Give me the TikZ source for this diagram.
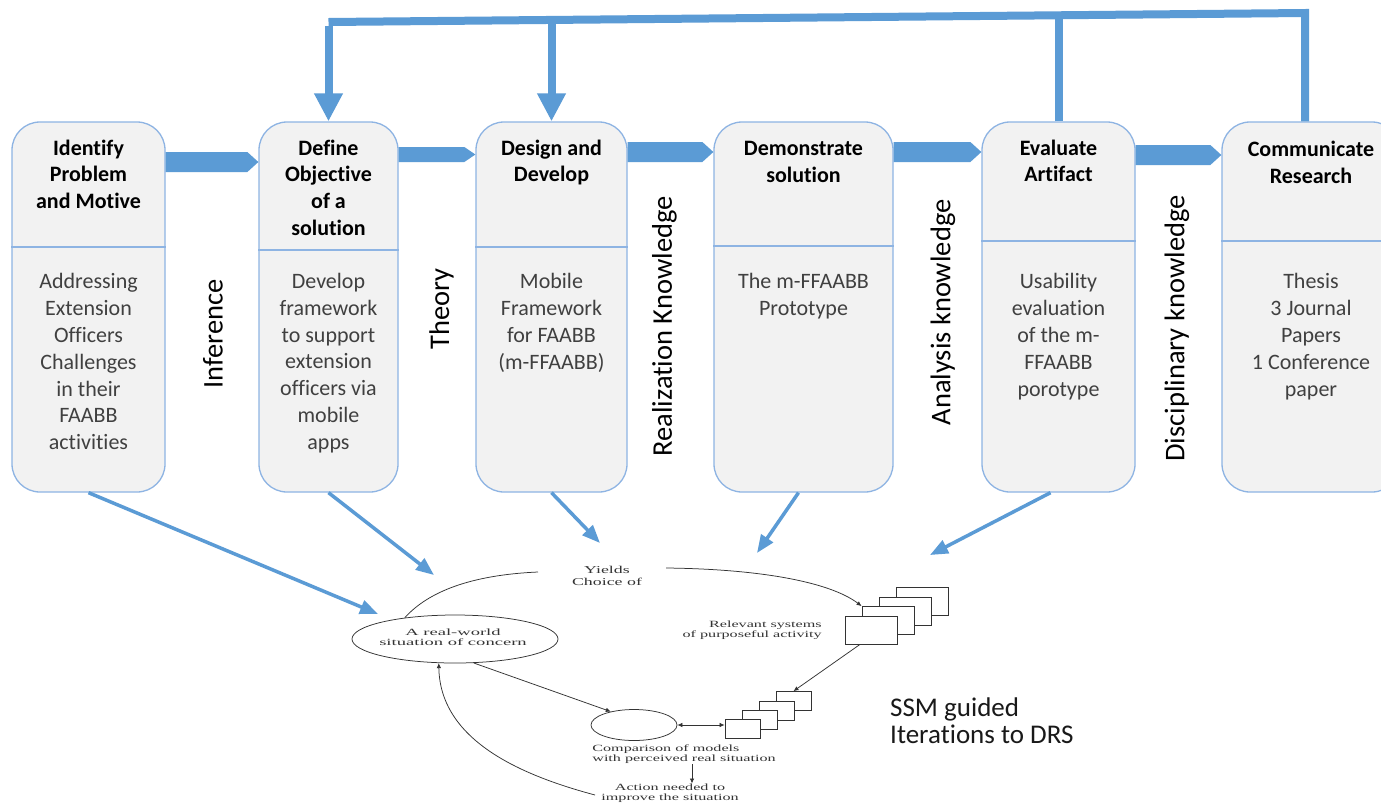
\documentclass[tikz,border=0pt]{standalone}
\usepackage{fontspec}
\setmainfont{Carlito}[Ligatures=NoCommon]
\newfontfamily\ssmserif{Liberation Serif}
\usetikzlibrary{arrows.meta,calc,shapes.geometric}
\definecolor{flowblue}{HTML}{5B9BD5}
\definecolor{boxline}{HTML}{8EB4E3}
\definecolor{boxfill}{HTML}{F2F2F2}
\definecolor{bodygray}{HTML}{404040}
\definecolor{ssmgray}{HTML}{333333}
\newcommand\flowarr[4]{%
  \fill[flow] (#1.east |- 0,#3) -- ($(#2.west |- 0,#3)+(-11,0)$)
    -- ($(#2.west |- 0,#3)!0.5!(#2.west |- 0,#4)$)
    -- ($(#2.west |- 0,#4)+(-11,0)$) -- (#1.east |- 0,#4) -- cycle;}
\begin{document}
\begin{tikzpicture}[x=1pt,y=-1pt,
  stagebox/.style={draw=boxline, line width=1.3pt, fill=boxfill, rounded corners=28pt,
    minimum height=370pt, inner sep=0pt},
  headtxt/.style={font=\fontsize{22}{26.8}\selectfont\bfseries, align=center, anchor=north,
    inner sep=0pt, text=black},
  bodytxt/.style={font=\fontsize{22}{26.8}\selectfont, align=center, anchor=north,
    inner sep=0pt, text=bodygray},
  divider/.style={draw=boxline, line width=1.3pt},
  vlabel/.style={font=\fontsize{28.5}{30}\selectfont, rotate=90, inner sep=0pt, text=black},
  flow/.style={fill=flowblue},
  fb/.style={draw=flowblue, line width=8pt, line join=miter},
  fbhead/.style={-{Triangle[width=27pt,length=28pt]}},
  diag/.style={draw=flowblue, line width=3.5pt, -{Triangle[width=14pt,length=18pt]}},
  ssmline/.style={draw=black!80, line width=0.75pt},
  ssmarrow/.style={ssmline, -{Latex[length=5pt,width=4.5pt]}},
  stackbig/.style={draw=black!80, fill=white, line width=0.8pt, minimum width=52pt,
    minimum height=28pt, inner sep=0pt},
  stacksmall/.style={draw=black!80, fill=white, line width=0.8pt, minimum width=35pt,
    minimum height=19pt, inner sep=0pt},
  ssmell/.style={ellipse, draw=black!80, line width=0.75pt, inner sep=0pt},
  tinytxt/.style={font=\ssmserif\fontsize{9.5}{10}\selectfont, xscale=1.7, inner sep=0pt,
    text=ssmgray},
  ssmnote/.style={font=\fontsize{27}{26.5}\selectfont, align=left, anchor=north west,
    inner sep=0pt, text=black!90}]
\useasboundingbox (0,0) rectangle (1381,807);
\clip (0,0) rectangle (1381,807);
\fill[white] (0,0) rectangle (1381,807);

% stage boxes
\node[stagebox, minimum width=153pt] (b1) at (88.5,307) {};
\node[stagebox, minimum width=139pt] (b2) at (328.5,307) {};
\node[stagebox, minimum width=151pt] (b3) at (551.5,307) {};
\node[stagebox, minimum width=179pt] (b4) at (803.5,307) {};
\node[stagebox, minimum width=153pt] (b5) at (1058.5,307) {};
\node[stagebox, minimum width=178pt] (b6) at (1311,307) {};

\draw[divider] (b1.west |- 0,247) -- (b1.east |- 0,247);
\draw[divider] (b2.west |- 0,250) -- (b2.east |- 0,250);
\draw[divider] (b3.west |- 0,247) -- (b3.east |- 0,247);
\draw[divider] (b4.west |- 0,246) -- (b4.east |- 0,246);
\draw[divider] (b5.west |- 0,241) -- (b5.east |- 0,241);
\draw[divider] (b6.west |- 0,241) -- (b6.east |- 0,241);

% headers
\node[headtxt] (h1) at (b1.north |- 0,139.5) {Identify\\Problem\\and Motive};
\node[headtxt] (h2) at (b2.north |- 0,139.5) {Define\\Objective\\of a\\solution};
\node[headtxt] (h3) at (b3.north |- 0,139.5) {Design and\\Develop};
\node[headtxt] (h4) at (b4.north |- 0,141) {Demonstrate\\solution};
\node[headtxt] (h5) at (b5.north |- 0,139.5) {Evaluate\\Artifact};
\node[headtxt] (h6) at (b6.north |- 0,141) {Communicate\\Research};

% bodies
\node[bodytxt] (t1) at (b1.north |- 0,273.5) {Addressing\\Extension\\Officers\\Challenges\\in their\\FAABB\\activities};
\node[bodytxt] (t2) at (b2.north |- 0,273) {Develop\\framework\\to support\\extension\\officers via\\mobile\\apps};
\node[bodytxt] (t3) at (b3.north |- 0,273.5) {Mobile\\Framework\\for FAABB\\(m-FFAABB)};
\node[bodytxt] (t4) at (b4.north |- 0,273.5) {The m-FFAABB\\Prototype};
\node[bodytxt] (t5) at (b5.north |- 0,273.5) {Usability\\evaluation\\of the m-\\FFAABB\\porotype};
\node[bodytxt] (t6) at (b6.north |- 0,273.5) {Thesis\\3 Journal\\Papers\\1 Conference\\paper};

% vertical knowledge labels
\node[vlabel] (l1) at (213,334) {Inference};
\node[vlabel] (l2) at (441.5,309) {Theory};
\node[vlabel] (l3) at (664.5,326.5) {Realization Knowledge};
\node[vlabel] (l4) at (943,312.5) {Analysis knowledge};
\node[vlabel] (l5) at (1177,328.5) {Disciplinary knowledge};

% block arrows between stages
\flowarr{b1}{b2}{152}{172}
\flowarr{b2}{b3}{147}{162}
\flowarr{b3}{b4}{142}{162}
\flowarr{b4}{b5}{142}{162}
\flowarr{b5}{b6}{145}{165}

% top feedback
\coordinate (k2) at (328.5,22);
\coordinate (k3) at (551.5,20);
\coordinate (k5) at (1058.5,15.3);
\coordinate (k6) at (1305,13);
\draw[fb] (b6.north -| k6) -- (k6) -- (k2);
\draw[fb] (b5.north) -- (k5);
\draw[fb, fbhead] ([yshift=-4pt]k2) -- (b2.north);
\draw[fb, fbhead] (k3) -- (b3.north);

% SSM diagram
\node[ssmell, minimum width=206pt, minimum height=48pt] (rw) at (455,639) {};
\node[tinytxt, xscale=1.15, align=center] (rwt) at (453,637.5) {A real-world\\situation of concern};

\node[stackbig] (s4) at (922,601.5) {};
\node[stackbig] (s3) at (905,611) {};
\node[stackbig] (s2) at (888,620.5) {};
\node[stackbig] (s1) at (871,630) {};

\node[stacksmall] (m4) at (793.5,701) {};
\node[stacksmall] (m3) at (776.5,710.5) {};
\node[stacksmall] (m2) at (759.5,719.5) {};
\node[stacksmall] (m1) at (742.5,729) {};

\node[ssmell, minimum width=86pt, minimum height=31pt] (cmp) at (634,725) {};

\node[tinytxt, font=\ssmserif\fontsize{10.5}{11.7}\selectfont, align=center] (yc) at (607,576) {Yields\\Choice of};
\node[tinytxt, align=right, anchor=east] (rel) at (822,630) {Relevant systems\\of purposeful activity};
\node[tinytxt, align=left, anchor=west] (cmpt) at (592,754.5) {Comparison of models\\with perceived real situation};
\node[tinytxt, align=center] (act) at (670,793) {Action needed to\\improve the situation};

\coordinate (ya) at (538,572);
\coordinate (yb) at (666,568);
\draw[ssmline] (rw.157) .. controls (428,592) and (470,575) .. (ya);
\draw[ssmarrow] (yb) .. controls (760,569) and (830,582) .. (s2.north west);
\draw[ssmarrow] ($(s1.south)+(-11,0)$) -- (m4.north);
\draw[ssmarrow] (rw.-52) -- (cmp.150);
\draw[ssmline, {Latex[length=5pt,width=4.5pt]}-{Latex[length=5pt,width=4.5pt]}] (cmp.east) -- (m1.west |- cmp.east);
\draw[ssmarrow] (cmpt.south -| 692,0) -- (act.north -| 692,0);
\draw[ssmarrow] ($(act.west)+(-6,2)$) .. controls (520,775) and (440,740) .. (rw.236);

\node[ssmnote] (note) at (890,698) {SSM guided\\Iterations to DRS};

% diagonal arrows into SSM
\coordinate (e1) at (378,614);
\coordinate (e2) at (434,575);
\coordinate (e3) at (600,543);
\coordinate (e4) at (757,553);
\coordinate (e5) at (930,555);
\draw[diag] (b1.south) -- (e1);
\draw[diag] (b2.south) -- (e2);
\draw[diag] (b3.south) -- (e3);
\draw[diag] ($(b4.south)+(-5,0)$) -- (e4);
\draw[diag] ($(b5.south)+(-8,0)$) -- (e5);
\end{tikzpicture}
\end{document}
